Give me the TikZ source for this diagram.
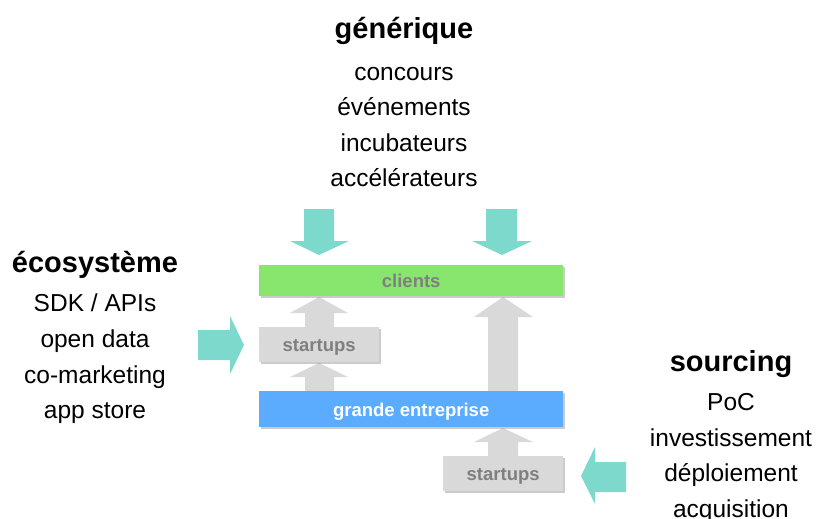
\documentclass[tikz,border=0pt]{standalone}
\usepackage{fontspec}
\setmainfont{Liberation Sans}
\usetikzlibrary{shadows}
\definecolor{teal1}{HTML}{7DD9CC}
\definecolor{green1}{HTML}{88E66E}
\definecolor{blue1}{HTML}{5BABFF}
\definecolor{gray1}{HTML}{D9D9D9}
\definecolor{gtext}{HTML}{7F7F7F}
\begin{document}
\begin{tikzpicture}[x=1pt,y=-1pt,
  heading/.style={font=\fontsize{29}{34}\selectfont\bfseries, inner sep=0pt},
  listtext/.style={font=\fontsize{24.5}{35.6}\selectfont, align=center, inner sep=0pt},
  boxbase/.style={draw=none, inner sep=0pt, anchor=north west, font=\fontsize{18.5}{22}\selectfont\bfseries,
     text height=14pt, text depth=0pt,
     drop shadow={shadow xshift=2pt, shadow yshift=-2pt, opacity=0.45, fill=black!45}},
  greenbox/.style={boxbase, fill=green1, text=gtext},
  bluebox/.style={boxbase, fill=blue1, text=white},
  graybox/.style={boxbase, fill=gray1, text=gtext},
  tealarrow/.style={fill=teal1, draw=none},
  grayarrow/.style={fill=gray1, draw=none}]
\useasboundingbox (0,0) rectangle (816,519);

% headings and lists
\node[heading] (gen) at (404,31) {générique};
\node[listtext] (genlist) at (404,127) {concours\\événements\\incubateurs\\accélérateurs};
\node[heading] (eco) at (95,265) {écosystème};
\node[listtext] (ecolist) at (95,359) {SDK / APIs\\open data\\co-marketing\\app store};
\node[heading] (sou) at (731,364) {sourcing};
\node[listtext] (soulist) at (731,458) {PoC\\investissement\\déploiement\\acquisition};

% gray up arrows (behind boxes)
\fill[grayarrow] (305,327) -- (305,313) -- (290,313) -- (319,297) -- (348,313) -- (334,313) -- (334,327) -- cycle;
\fill[grayarrow] (305,391) -- (305,377) -- (290,377) -- (319,363) -- (348,377) -- (334,377) -- (334,391) -- cycle;
\fill[grayarrow] (488,391) -- (488,317) -- (474,317) -- (503,297) -- (533,317) -- (518,317) -- (518,391) -- cycle;
\fill[grayarrow] (488,456) -- (488,442) -- (474,442) -- (503,428) -- (533,442) -- (518,442) -- (518,456) -- cycle;

% boxes
\node[greenbox, minimum width=304pt, minimum height=31pt] (clients) at (259,265) {clients};
\node[graybox, minimum width=120pt, minimum height=35pt] (st1) at (259,327) {startups};
\node[bluebox, minimum width=304pt, minimum height=36pt] (ge) at (259,391) {grande entreprise};
\node[graybox, minimum width=120pt, minimum height=35pt] (st2) at (443,456) {startups};

% teal arrows
\fill[tealarrow] (304,209) -- (334,209) -- (334,241) -- (349,241) -- (319,255) -- (290,241) -- (304,241) -- cycle;
\fill[tealarrow] (486,209) -- (517,209) -- (517,241) -- (532,241) -- (502,255) -- (472,241) -- (486,241) -- cycle;
\fill[tealarrow] (198,330) -- (230,330) -- (230,316) -- (244,345) -- (230,374) -- (230,360) -- (198,360) -- cycle;
\fill[tealarrow] (626,462) -- (595,462) -- (595,447) -- (581,476) -- (595,504) -- (595,492) -- (626,492) -- cycle;
\end{tikzpicture}
\end{document}
